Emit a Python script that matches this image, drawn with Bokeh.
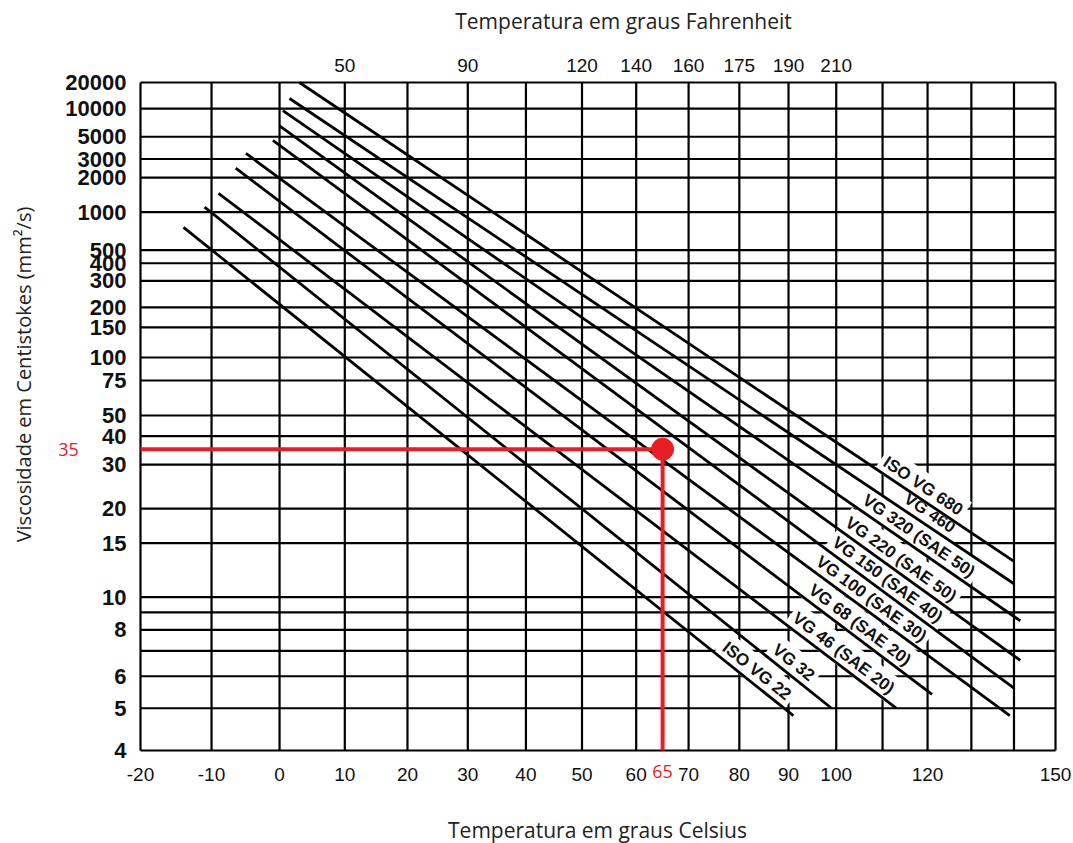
import numpy as np
from bokeh.plotting import figure
from bokeh.models import Range1d, FixedTicker, LinearAxis, Label, ColumnDataSource, CustomJSTickFormatter
from bokeh.core.properties import value
from bokeh.embed import file_html
from bokeh.resources import INLINE

# ---------------- data ----------------
grid_temp_c = [-20, -10, 0, 10, 20, 30, 40, 50, 60, 70, 80, 90, 100, 110, 120, 130, 140, 150]
celsius_ticks = [-20, -10, 0, 10, 20, 30, 40, 50, 60, 70, 80, 90, 100, 120, 150]
fahrenheit_labels = [50, 90, 120, 140, 160, 175, 190, 210]
fahrenheit_at_c = [10, 30, 50, 60, 70, 80, 90, 100]
visc_grid = [20000, 10000, 5000, 3000, 2000, 1000, 500, 400, 300, 200, 150, 100, 75,
             50, 40, 30, 20, 15, 10, 9, 8, 7, 6, 5, 4]
visc_ticks = [20000, 10000, 5000, 3000, 2000, 1000, 500, 400, 300, 200, 150, 100, 75,
              50, 40, 30, 20, 15, 10, 8, 6, 5, 4]

grades = ["ISO VG 22", "VG 32", "VG 46 (SAE 20)", "VG 68 (SAE 20)", "VG 100 (SAE 30)",
          "VG 150 (SAE 40)", "VG 220 (SAE 50)", "VG 320 (SAE 50)", "VG 460", "ISO VG 680"]
t_start = [-14, -11, -9, -6.5, -5, -1, 0, 0.5, 1.5, 3]
v_start = [750, 1100, 1450, 2450, 3400, 4600, 6500, 9500, 13000, 20000]
t_end = [91, 99, 113, 121, 139, 140, 141.5, 141.5, 140, 140]
v_end = [4.8, 5.0, 5.0, 5.4, 4.8, 5.6, 6.6, 8.5, 11, 13]

example_t = 65
example_v = 35

# placement of the grade labels along their lines (temperature, °C)
label_t = [82, 89.5, 100, 103.5, 106, 109.5, 112.5, 116.5, 119, 117.5]


# ---------------- scales (viscosity-temperature chart) ----------------
def tx(t):
    return np.log10(np.asarray(t, dtype=float) + 240.0)


def ty(v):
    return np.log10(np.log10(np.asarray(v, dtype=float) + 0.7))


W, H = 1073, 843
CL, CR, CT, CB = 140, 1055, 82, 750      # chart rectangle in page px
X0, X1 = float(tx(grid_temp_c[0])), float(tx(grid_temp_c[-1]))
Y0, Y1 = float(ty(visc_grid[-1])), float(ty(visc_grid[0]))
kx = (X1 - X0) / (CR - CL)
ky = (Y1 - Y0) / (CB - CT)
xr = Range1d(X0 - CL * kx, X1 + (W - CR) * kx)
yr = Range1d(Y0 - (H - CB) * ky, Y1 + CT * ky)


def px2x(px):
    return X0 + (px - CL) * kx


def py2y(py):
    return Y1 - (py - CT) * ky


p = figure(width=W, height=H, x_range=xr, y_range=yr,
           output_backend="svg", toolbar_location=None,
           min_border_left=0, min_border_right=0, min_border_top=0, min_border_bottom=0)
p.background_fill_color = "white"
p.border_fill_color = "white"
p.outline_line_color = None
p.xgrid.visible = False
p.ygrid.visible = False

fmt_code = """
let b = 0;
for (let i = 0; i < tk.length; i++) {
  if (Math.abs(tk[i] - tick) < Math.abs(tk[b] - tick)) b = i;
}
return lb[b];
"""


def fmt(tk, lb):
    return CustomJSTickFormatter(args=dict(tk=tk, lb=lb), code=fmt_code)


# bottom axis (Celsius)
xt = [float(v) for v in tx(celsius_ticks)]
bottom = p.xaxis[0]
bottom.fixed_location = Y0
bottom.ticker = FixedTicker(ticks=xt)
bottom.formatter = fmt(xt, [str(c) for c in celsius_ticks])

# left axis (viscosity)
yt = [float(v) for v in ty(visc_ticks)]
left = p.yaxis[0]
left.fixed_location = X0
left.ticker = FixedTicker(ticks=yt)
left.formatter = fmt(yt, [str(v) for v in visc_ticks])

# top axis (Fahrenheit)
ft = [float(v) for v in tx(fahrenheit_at_c)]
top = LinearAxis(fixed_location=Y1, ticker=FixedTicker(ticks=ft),
                 formatter=fmt(ft, [str(f) for f in fahrenheit_labels]))
p.add_layout(top, "above")

for ax in (bottom, left, top):
    ax.axis_line_color = None
    ax.major_tick_line_color = None
    ax.minor_tick_line_color = None
    ax.major_tick_in = 0
    ax.major_tick_out = 0
    ax.minor_tick_in = 0
    ax.minor_tick_out = 0
    ax.major_label_text_color = "#111111"

for ax in (bottom, top):
    ax.major_label_text_font = "Liberation Sans"
    ax.major_label_text_font_size = "19px"
bottom.major_label_standoff = 17
top.major_label_standoff = 11
left.major_label_text_font = "Liberation Sans"
left.major_label_text_font_style = "bold"
left.major_label_text_font_size = "22px"
left.major_label_standoff = 14

# ---------------- grid (chart paper) ----------------
gx = [float(v) for v in tx(grid_temp_c)]
gy = [float(v) for v in ty(visc_grid)]
p.segment(x0=gx, x1=gx, y0=[Y0] * len(gx), y1=[Y1] * len(gx), line_color="black", line_width=2.2)
p.segment(x0=[X0] * len(gy), x1=[X1] * len(gy), y0=gy, y1=gy, line_color="black", line_width=2.2)

# ---------------- grade labels ----------------
sx = 1.0 / kx
sy = 1.0 / ky
lx, ly, la = [], [], []
for i in range(len(grades)):
    xa, xb = float(tx(t_start[i])), float(tx(t_end[i]))
    ya, yb = float(ty(v_start[i])), float(ty(v_end[i]))
    ang = np.arctan2((yb - ya) * sy, (xb - xa) * sx)
    xl = float(tx(label_t[i]))
    yl = ya + (yb - ya) * (xl - xa) / (xb - xa)
    off = 12.0
    nx, ny = -np.sin(ang), np.cos(ang)
    lx.append(xl + nx * off / sx)
    ly.append(yl + ny * off / sy)
    la.append(float(ang))

lsrc = ColumnDataSource(dict(x=lx, y=ly, text=grades, angle=la))
p.text(x="x", y="y", text="text", angle="angle", source=lsrc,
       text_font=value("Liberation Sans"), text_font_size="17px", text_font_style="bold",
       text_align="center", text_baseline="middle", text_color="#111111",
       background_fill_color="white", padding=4)

# ---------------- grade lines ----------------
xs = [[float(tx(a)), float(tx(b))] for a, b in zip(t_start, t_end)]
ys = [[float(ty(a)), float(ty(b))] for a, b in zip(v_start, v_end)]
p.multi_line(xs=xs, ys=ys, line_color="black", line_width=2.8)

# ---------------- example reading ----------------
RED = "#ea1c24"
ex, ey = float(tx(example_t)), float(ty(example_v))
p.line([X0, ex], [ey, ey], line_color=RED, line_width=4)
p.line([ex, ex], [Y0, ey], line_color=RED, line_width=4)
p.scatter([ex], [ey], size=22, color=RED)

p.add_layout(Label(x=px2x(68), y=ey, text=str(example_v), text_color=RED,
                   text_font="Open Sans", text_font_size="18px",
                   text_align="center", text_baseline="middle"))
p.add_layout(Label(x=ex, y=py2y(771), text=str(example_t), text_color=RED,
                   text_font="Open Sans", text_font_size="18px",
                   text_align="center", text_baseline="middle"))

# ---------------- titles ----------------
p.add_layout(Label(x=px2x(623), y=py2y(20), text="Temperatura em graus Fahrenheit",
                   text_font="Open Sans", text_font_size="21px", text_color="#222222",
                   text_align="center", text_baseline="middle"))
p.add_layout(Label(x=px2x(597), y=py2y(829), text="Temperatura em graus Celsius",
                   text_font="Open Sans", text_font_size="21px", text_color="#222222",
                   text_align="center", text_baseline="middle"))
p.add_layout(Label(x=px2x(23), y=py2y(374), text="Viscosidade em Centistokes (mm²/s)",
                   text_font="Open Sans", text_font_size="20px", text_color="#222222",
                   angle=np.pi / 2, text_align="center", text_baseline="middle"))

open("out.html", "w").write(file_html(p, INLINE))
